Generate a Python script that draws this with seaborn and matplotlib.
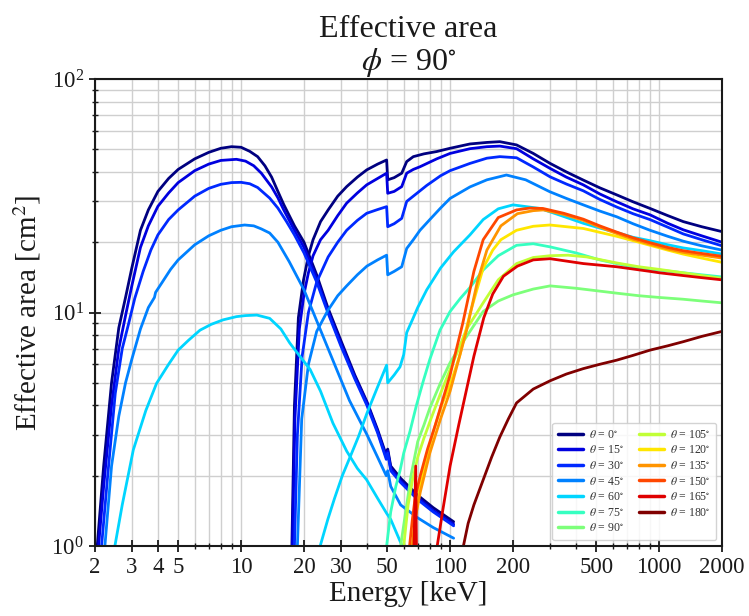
import numpy as np
import pandas as pd
import matplotlib
matplotlib.use("Agg")
import matplotlib.pyplot as plt
import seaborn as sns
from matplotlib.lines import Line2D
from matplotlib.ticker import FixedLocator, FixedFormatter, LogLocator, NullFormatter

# ---------------- data ----------------
thetas = [0, 15, 30, 45, 60, 75, 90, 105, 120, 135, 150, 165, 180]

# low-energy detector curves
e_lo_0 = [2.05, 2.2, 2.4, 2.6, 2.8, 3.0, 3.3, 3.6, 4.0, 4.5, 5.0, 6.0, 7.0, 8.0, 9.0, 10.0, 11.0, 12.0, 13.0, 14.0, 15.0, 16.0, 18.0, 20.0, 23.0, 26.0, 30.0, 35.0, 40.0, 45.0, 49.5, 50.3, 52.0, 58.0, 70.0, 83.0, 104.0]
a_lo_0 = [1.0, 2.2, 5.0, 8.6, 11.6, 15.5, 22.5, 27.5, 33.0, 37.5, 41.0, 45.5, 48.5, 50.5, 51.3, 51.0, 49.0, 46.5, 42.5, 38.0, 33.0, 29.0, 23.5, 20.0, 14.5, 10.5, 7.6, 5.4, 4.15, 3.15, 2.45, 2.6, 2.2, 1.95, 1.65, 1.46, 1.27]

e_lo_15 = [2.08, 2.2, 2.4, 2.6, 2.8, 3.0, 3.3, 3.6, 4.0, 4.5, 5.0, 6.0, 7.0, 8.0, 9.5, 10.5, 11.5, 12.5, 14.0, 15.0, 16.0, 18.0, 20.0, 23.0, 26.0, 30.0, 35.0, 40.0, 45.0, 49.5, 50.3, 52.0, 58.0, 70.0, 83.0, 104.0]
a_lo_15 = [1.0, 1.8, 4.0, 7.0, 9.7, 13.0, 19.0, 23.5, 28.5, 32.5, 36.0, 40.5, 43.2, 44.8, 45.3, 44.5, 42.5, 39.5, 34.5, 31.0, 27.5, 22.5, 19.0, 14.0, 10.2, 7.4, 5.3, 4.1, 3.1, 2.4, 2.55, 2.15, 1.9, 1.61, 1.42, 1.24]

e_lo_30 = [2.15, 2.3, 2.5, 2.7, 2.9, 3.1, 3.4, 3.7, 4.0, 4.5, 5.0, 6.0, 7.0, 8.0, 9.0, 10.0, 11.0, 12.0, 13.7, 15.0, 16.5, 18.0, 20.0, 23.0, 26.0, 30.0, 35.0, 40.0, 45.0, 49.5, 50.3, 52.0, 58.0, 70.0, 83.0, 104.0]
a_lo_30 = [1.0, 2.0, 4.5, 7.0, 9.0, 11.5, 15.0, 18.5, 21.5, 25.0, 27.5, 31.5, 34.0, 35.4, 36.0, 36.1, 35.6, 34.3, 30.9, 28.0, 24.5, 21.5, 18.0, 13.5, 10.0, 7.2, 5.2, 4.0, 3.05, 2.35, 2.5, 2.1, 1.87, 1.58, 1.4, 1.22]

e_lo_45 = [2.23, 2.4, 2.6, 2.8, 3.0, 3.3, 3.6, 3.85, 3.9, 4.2, 4.6, 5.0, 6.0, 7.0, 8.0, 9.0, 10.4, 11.5, 12.5, 13.7, 15.0, 17.0, 20.0, 24.0, 28.0, 33.0, 40.0, 45.0, 49.5, 50.3, 52.0, 58.0, 70.0, 83.0, 104.0]
a_lo_45 = [1.0, 2.2, 3.6, 5.0, 6.3, 8.5, 10.5, 11.6, 12.2, 13.5, 15.3, 16.8, 19.5, 21.3, 22.5, 23.3, 23.7, 23.5, 22.8, 21.9, 20.0, 16.5, 12.5, 8.4, 6.0, 4.2, 3.0, 2.4, 2.0, 2.1, 1.8, 1.5, 1.32, 1.2, 1.08]

e_lo_60 = [2.49, 2.7, 3.05, 3.5, 3.94, 4.5, 5.0, 5.6, 6.36, 7.2, 8.2, 9.5, 10.5, 11.9, 13.7, 15.5, 17.1, 19.1, 21.4, 24.0, 27.5, 32.0, 36.0, 39.9, 45.0, 49.7, 52.0, 57.6, 60.0]
a_lo_60 = [1.0, 1.5, 2.58, 3.8, 4.97, 6.0, 6.9, 7.6, 8.4, 8.9, 9.3, 9.6, 9.7, 9.75, 9.44, 8.5, 7.4, 6.5, 5.7, 4.6, 3.36, 2.55, 2.15, 1.92, 1.6, 1.38, 1.3, 1.05, 0.97]

# high-energy detector curves
e_hi_0 = [17.5, 18.0, 18.8, 19.9, 21.0, 22.1, 24.0, 26.1, 29.0, 32.0, 36.0, 39.9, 45.0, 49.7, 50.3, 54.0, 58.7, 62.0, 66.7, 75.0, 86.3, 100, 124.5, 150, 173, 208, 250, 301, 360, 434, 520, 627, 750, 905, 1100, 1306, 1600, 2000]
a_hi_0 = [1.0, 4.0, 9.5, 13.8, 17.5, 20.5, 24.5, 27.5, 31.5, 34.6, 38.0, 40.8, 43.2, 45.0, 37.0, 37.8, 39.5, 44.3, 46.5, 47.8, 48.9, 50.5, 52.7, 53.5, 53.9, 52.2, 48.0, 43.5, 40.0, 36.9, 34.2, 31.9, 29.8, 27.9, 26.0, 24.5, 23.3, 22.2]

e_hi_15 = [17.6, 18.1, 19.0, 20.0, 21.0, 22.1, 24.0, 26.1, 29.0, 32.0, 36.0, 39.9, 45.0, 49.7, 50.3, 54.0, 58.7, 62.0, 66.7, 71.8, 86.3, 100, 124.5, 150, 173, 208, 250, 301, 360, 434, 520, 627, 750, 905, 1100, 1306, 1600, 2000]
a_hi_15 = [1.0, 3.5, 8.5, 12.0, 14.8, 17.5, 20.5, 22.5, 26.0, 29.4, 32.5, 35.2, 37.5, 39.5, 32.4, 33.0, 34.6, 39.5, 41.0, 42.1, 45.5, 48.0, 50.3, 51.3, 51.6, 50.3, 45.5, 41.4, 38.0, 35.2, 32.2, 29.8, 27.8, 26.2, 24.1, 22.6, 21.3, 20.0]

e_hi_30 = [18.0, 18.6, 19.6, 21.0, 23.0, 26.1, 29.0, 32.0, 36.0, 39.9, 45.0, 49.7, 50.3, 54.0, 58.7, 62.0, 66.7, 77.3, 90, 100, 124.5, 150, 173, 208, 250, 301, 360, 434, 520, 627, 750, 905, 1100, 1306, 1600, 2000]
a_hi_30 = [1.0, 3.0, 6.5, 10.0, 13.5, 17.3, 20.0, 22.5, 24.8, 26.6, 27.6, 28.4, 23.3, 24.0, 25.3, 29.9, 31.5, 35.0, 38.5, 40.5, 43.5, 45.8, 46.5, 46.0, 42.0, 38.1, 35.5, 33.2, 30.5, 28.3, 26.5, 25.0, 23.2, 21.7, 20.5, 19.3]

e_hi_45 = [18.6, 19.5, 21.0, 23.0, 26.0, 29.0, 32.0, 36.0, 40.0, 45.0, 49.7, 50.3, 54.0, 58.7, 62.0, 66.7, 71.8, 80, 90, 100, 124.5, 150, 186, 230, 300, 360, 434, 520, 627, 750, 905, 1100, 1306, 1600, 2000]
a_hi_45 = [1.0, 3.5, 6.0, 8.3, 10.2, 11.8, 13.0, 14.5, 15.8, 16.8, 17.6, 14.5, 15.0, 15.7, 18.8, 20.5, 22.5, 25.0, 28.0, 30.8, 34.5, 37.0, 38.8, 37.0, 32.9, 30.8, 28.9, 27.2, 25.7, 24.0, 22.5, 21.2, 20.2, 19.3, 18.5]

e_hi_60 = [23.9, 26.0, 28.0, 30.5, 33.2, 36.5, 40.0, 45.0, 49.7, 50.3, 54.0, 57.6, 60.0, 62.0, 66.0, 70.0, 77.3, 90, 104, 124.5, 144, 170, 200, 269, 340, 434, 520, 627, 750, 905, 1100, 1306, 1600, 2000]
a_hi_60 = [1.0, 1.3, 1.6, 2.0, 2.4, 2.95, 3.7, 4.8, 5.95, 5.0, 5.4, 5.85, 6.6, 8.2, 9.3, 10.5, 12.5, 15.5, 18.2, 21.5, 25.0, 27.8, 28.9, 27.9, 26.0, 24.1, 23.0, 22.0, 21.0, 20.3, 19.5, 18.9, 18.4, 17.8]

e_hi_75 = [49.7, 52.0, 55.0, 57.6, 60.0, 64.3, 69.0, 74.5, 80.0, 89.5, 100, 112, 124.5, 144, 170, 208, 250, 301, 400, 520, 627, 800, 1000, 1300, 1600, 2000]
a_hi_75 = [1.0, 1.4, 1.8, 2.1, 2.5, 3.1, 4.0, 5.1, 6.3, 8.4, 10.1, 11.5, 12.8, 15.2, 17.5, 19.4, 19.7, 19.1, 18.0, 16.8, 16.2, 15.5, 15.2, 14.8, 14.5, 14.2]

e_hi_90 = [58.0, 62.0, 65.0, 70.0, 75.0, 80.0, 90.0, 100, 110, 120, 144, 170, 200, 250, 301, 400, 500, 627, 800, 1000, 1300, 1600, 2000]
a_hi_90 = [1.0, 1.5, 2.0, 2.8, 3.3, 3.9, 5.0, 6.1, 7.0, 7.9, 10.1, 11.2, 11.9, 12.6, 13.0, 12.7, 12.4, 12.1, 11.8, 11.6, 11.4, 11.2, 11.0]

e_hi_105 = [60.0, 63.0, 66.0, 70.0, 75.0, 80.0, 90.0, 100, 110, 120, 144, 170, 208, 250, 300, 367, 450, 627, 800, 1000, 1300, 1600, 2000]
a_hi_105 = [1.0, 1.5, 1.9, 2.4, 2.9, 3.4, 4.5, 5.7, 7.0, 8.5, 11.0, 13.8, 16.2, 17.2, 17.5, 17.6, 17.3, 16.3, 15.7, 15.3, 14.8, 14.4, 14.0]

e_hi_120 = [66.0, 68.0, 72.0, 78.0, 85.0, 92.0, 100, 111, 125, 144, 160, 175, 208, 250, 300, 434, 627, 800, 905, 1100, 1300, 1600, 2000]
a_hi_120 = [1.0, 1.3, 1.8, 2.5, 3.3, 4.1, 4.9, 6.5, 10.0, 15.5, 18.5, 20.5, 22.5, 23.4, 23.7, 22.9, 21.2, 20.0, 19.4, 18.5, 17.8, 17.1, 16.4]

e_hi_135 = [66.0, 68.0, 72.0, 80.0, 90.0, 100, 110, 120, 135, 150, 175, 210, 250, 280, 350, 434, 520, 627, 750, 905, 1100, 1300, 1600, 2000]
a_hi_135 = [1.0, 1.3, 1.7, 2.5, 3.5, 4.6, 6.3, 8.4, 13.5, 18.5, 23.5, 26.5, 27.3, 27.5, 26.3, 24.8, 23.2, 21.8, 20.6, 19.6, 18.7, 18.1, 17.6, 17.1]

e_hi_150 = [64.0, 66.0, 68.0, 72.0, 78.0, 85.0, 100, 115, 130, 144, 170, 208, 240, 278, 350, 434, 520, 627, 750, 905, 1100, 1300, 1600, 2000]
a_hi_150 = [1.0, 1.3, 1.6, 2.0, 2.6, 3.3, 5.4, 9.0, 15.0, 20.5, 25.5, 27.5, 28.0, 27.9, 26.6, 25.1, 23.5, 22.1, 20.9, 19.9, 19.0, 18.4, 17.9, 17.4]

e_hi_165 = [66.0, 68.5, 69.5, 72.0, 86.0, 92.0, 100, 110, 120, 130, 145, 160, 180, 210, 250, 301, 434, 627, 905, 1000, 1300, 1600, 2000]
a_hi_165 = [0.5, 2.2, 0.5, 0.5, 0.95, 1.4, 2.2, 3.3, 4.7, 6.5, 9.5, 12.0, 14.3, 15.8, 16.8, 17.0, 16.2, 15.7, 15.0, 14.8, 14.4, 14.1, 13.8]

e_hi_180 = [115.8, 122, 130, 144, 158, 173, 190, 208, 250, 301, 360, 434, 520, 627, 750, 905, 1100, 1306, 1600, 2000]
a_hi_180 = [1.0, 1.25, 1.5, 1.92, 2.4, 2.93, 3.5, 4.1, 4.7, 5.1, 5.45, 5.75, 6.0, 6.25, 6.55, 6.9, 7.2, 7.5, 7.9, 8.3]

curves = [
    (0, "lo", e_lo_0, a_lo_0), (15, "lo", e_lo_15, a_lo_15), (30, "lo", e_lo_30, a_lo_30),
    (45, "lo", e_lo_45, a_lo_45), (60, "lo", e_lo_60, a_lo_60),
    (0, "hi", e_hi_0, a_hi_0), (15, "hi", e_hi_15, a_hi_15), (30, "hi", e_hi_30, a_hi_30),
    (45, "hi", e_hi_45, a_hi_45), (60, "hi", e_hi_60, a_hi_60), (75, "hi", e_hi_75, a_hi_75),
    (90, "hi", e_hi_90, a_hi_90), (105, "hi", e_hi_105, a_hi_105), (120, "hi", e_hi_120, a_hi_120),
    (135, "hi", e_hi_135, a_hi_135), (150, "hi", e_hi_150, a_hi_150), (165, "hi", e_hi_165, a_hi_165),
    (180, "hi", e_hi_180, a_hi_180),
]

x_ticks = [2, 3, 4, 5, 10, 20, 30, 50, 100, 200, 500, 1000, 2000]
x_tick_labels = ["2", "3", "4", "5", "10", "20", "30", "50", "100", "200", "500", "1000", "2000"]

# ---------------- build table ----------------
labels = [r"$\theta$ = %d$^{\circ}$" % t for t in thetas]
lab_of = dict(zip(thetas, labels))
rows = []
for t, det, es, as_ in curves:
    for e, a in zip(es, as_):
        rows.append({"E": e, "A": a, "label": lab_of[t], "curve": f"{det}_{t}"})
df = pd.DataFrame(rows)

jet = plt.get_cmap("jet")
colors = [jet(v) for v in np.linspace(0, 1, len(thetas))]
palette = dict(zip(labels, colors))

# ---------------- style ----------------
sns.set_style("ticks")
plt.rcParams["font.family"] = ["Liberation Serif", "DejaVu Serif"]
plt.rcParams["mathtext.fontset"] = "stix"
txt = "#1a1a1a"

fig = plt.figure(figsize=(7.49, 6.16), dpi=100)
ax = fig.add_axes([95 / 749, 1 - 546 / 616, (722 - 95) / 749, (546 - 79) / 616])

sns.lineplot(data=df, x="E", y="A", hue="label", hue_order=labels, palette=palette,
             units="curve", estimator=None, sort=False, legend=False, linewidth=2.0, ax=ax)

ax.set_xscale("log")
ax.set_yscale("log")
ax.set_xlim(2, 2000)
ax.set_ylim(1, 100)

ax.xaxis.set_major_locator(FixedLocator(x_ticks))
ax.xaxis.set_major_formatter(FixedFormatter(x_tick_labels))
ax.xaxis.set_minor_locator(LogLocator(base=10, subs=np.arange(2, 10), numticks=30))
ax.xaxis.set_minor_formatter(NullFormatter())
ax.yaxis.set_major_locator(LogLocator(base=10, numticks=10))
ax.yaxis.set_minor_locator(LogLocator(base=10, subs=np.arange(2, 10), numticks=30))
ax.yaxis.set_minor_formatter(NullFormatter())

ax.grid(True, which="both", color="#cfcfcf", linewidth=1.0)
ax.set_axisbelow(True)

for s in ax.spines.values():
    s.set_color(txt)
    s.set_linewidth(1.5)
ax.tick_params(which="major", direction="inout", length=8, width=1.3, colors=txt,
               labelsize=16.5, pad=4)
ax.tick_params(which="minor", direction="inout", length=5, width=1.0, colors=txt)

ax.set_xlabel("Energy [keV]", fontsize=21, color=txt, labelpad=2)
ax.set_ylabel(r"Effective area [cm$^2$]", fontsize=21, color=txt, labelpad=6)
ax.set_title("Effective area\n" + r"$\phi$ = 90$^{\circ}$", fontsize=23, color=txt,
             pad=6, linespacing=1.08)

handles = [Line2D([0], [0], color=c, lw=2.5) for c in colors]
leg = ax.legend(handles, labels, ncol=2, loc="lower right", fontsize=8.5,
                handlelength=2.1, handletextpad=0.5, columnspacing=1.3,
                labelspacing=0.3, framealpha=0.85, fancybox=True, borderaxespad=0.5,
                borderpad=0.5)
leg.get_frame().set_edgecolor("#cccccc")
for t in leg.get_texts():
    t.set_color("#333333")

fig.savefig("out.png", dpi=100)
